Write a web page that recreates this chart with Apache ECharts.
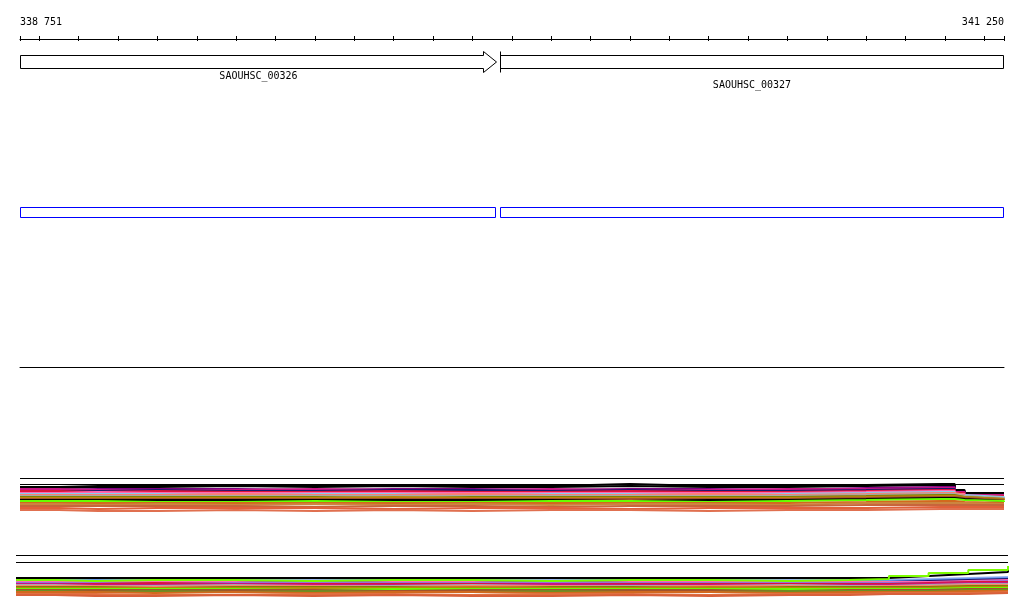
<!DOCTYPE html>
<html><head><meta charset="utf-8">
<script src="https://cdn.jsdelivr.net/npm/echarts@6/dist/echarts.min.js"></script>
<style>html,body{margin:0;padding:0;background:#fff}#c{width:1024px;height:611px}</style>
</head><body><div id="c"></div>
<script>
// ---- axis ----
const axisMin = 338751, axisMax = 341250;
const tickValues = [338751, 338800, 338900, 339000, 339100, 339200, 339300, 339400, 339500, 339600, 339700, 339800, 339900, 340000, 340100, 340200, 340300, 340400, 340500, 340600, 340700, 340800, 340900, 341000, 341100, 341200, 341250];
const tickLabels = [338751, 341250];

// ---- genes ----
const geneNames = ['SAOUHSC_00326', 'SAOUHSC_00327'];
const geneStarts = [338751, 339970];
const geneEnds = [339962, 341250];
const geneLabelRows = [0, 1];

// ---- CDS features (blue) ----
const featStarts = [338751, 339970];
const featEnds = [339961, 341250];

// ---- track A (profiles) ----
const trackARefLevels = [0.5, 6.5];
const posA = [338751, 338850, 338950, 339100, 339300, 339500, 339700, 339900, 340100, 340300, 340500, 340700, 340900, 341090, 341125, 341150, 341250];
const colorsA = ['#000000', '#000000', '#800080', '#c71585', '#191970', '#dc143c', '#ff69b4', '#87ceeb', '#fa8072', '#a9a9a9', '#808000', '#b8860b', '#a0522d', '#000000', '#66ff00', '#d2691e', '#cd853f', '#c8643c', '#e0603a', '#e07050'];
const valuesA = [
  [9, 8, 7, 7, 8, 7, 7, 8, 6, 8, 7, 7, 6, 6, 12, 15, 15],
  [10, 9, 9, 8, 9, 8, 9, 9, 8, 9, 9, 8, 7, 7, 13, 16, 16],
  [12, 11, 11, 11, 12, 11, 11, 12, 11, 11, 12, 10, 9, 9, 14, 17, 17],
  [11, 12, 12, 12, 11, 12, 12, 11, 12, 12, 11, 11, 10, 10, 14, 17, 17],
  [13, 13, 12, 13, 13, 12, 12, 13, 12, 13, 13, 12, 11, 11, 15, 18, 18],
  [13, 14, 13, 14, 14, 13, 14, 14, 13, 14, 14, 13, 12, 12, 15, 18, 18],
  [15, 14, 15, 15, 15, 15, 15, 15, 15, 15, 15, 14, 13, 13, 16, 19, 19],
  [16, 16, 16, 17, 16, 16, 17, 16, 16, 17, 16, 15, 14, 14, 17, 19, 20],
  [17, 17, 17, 16, 17, 17, 16, 17, 17, 16, 17, 16, 15, 15, 17, 20, 20],
  [18, 18, 18, 18, 18, 18, 18, 18, 18, 18, 18, 17, 16, 16, 18, 20, 21],
  [19, 19, 19, 19, 19, 20, 19, 19, 19, 19, 19, 18, 17, 17, 19, 21, 21],
  [20, 20, 20, 20, 20, 19, 20, 20, 20, 20, 20, 19, 18, 18, 19, 21, 22],
  [21, 21, 21, 21, 21, 21, 21, 21, 21, 21, 21, 20, 19, 19, 20, 22, 22],
  [22, 22, 22, 22, 22, 22, 22, 22, 23, 22, 22, 21, 20, 20, 21, 23, 23],
  [23, 23, 24, 24, 23, 24, 24, 23, 23, 24, 23, 22, 21, 21, 22, 23, 24],
  [25, 25, 25, 25, 25, 25, 25, 25, 25, 25, 25, 24, 23, 23, 24, 25, 25],
  [26, 27, 26, 27, 26, 27, 26, 27, 26, 26, 27, 25, 25, 25, 25, 26, 26],
  [28, 28, 28, 28, 29, 28, 28, 29, 28, 28, 28, 27, 27, 27, 27, 27, 27],
  [30, 31, 30, 30, 30, 31, 30, 30, 31, 30, 30, 30, 29, 29, 29, 29, 29],
  [32, 33, 33, 32, 33, 32, 33, 32, 32, 33, 32, 32, 31, 31, 31, 31, 31]
];

// ---- track B (profiles) ----
const trackBRefLevels = [0.5, 7.5];
const posB = [338751, 338850, 338950, 339100, 339300, 339500, 339700, 339900, 340100, 340300, 340500, 340700, 340850, 340950, 341050, 341150, 341250];
const colorsB = ['#9ab4f0', '#6495ed', '#191970', '#ff69b4', '#9370db', '#dc143c', '#c71585', '#a9a9a9', '#fa8072', '#808000', '#b8860b', '#66ff00', '#a0522d', '#6b8e23', '#d2691e', '#e07040', '#d8603a', '#000000', '#7cfc00'];
const valuesB = [
  [25, 25, 25, 24, 25, 25, 24, 25, 25, 24, 25, 24, 25, 24, 23, 22, 22],
  [26, 25, 26, 26, 26, 25, 26, 26, 25, 26, 26, 26, 26, 25, 24, 23, 23],
  [26, 26, 26, 27, 26, 27, 26, 26, 27, 26, 26, 27, 27, 26, 25, 24, 24],
  [27, 27, 27, 27, 28, 27, 27, 28, 27, 27, 27, 27, 27, 27, 26, 25, 25],
  [28, 28, 28, 28, 27, 28, 28, 27, 28, 28, 28, 28, 28, 28, 27, 26, 26],
  [29, 29, 28, 29, 29, 29, 29, 29, 29, 29, 29, 29, 29, 28, 27, 27, 27],
  [29, 30, 30, 29, 30, 30, 30, 29, 30, 30, 30, 30, 30, 29, 28, 28, 28],
  [30, 31, 31, 30, 31, 31, 30, 31, 31, 31, 30, 31, 31, 30, 29, 29, 29],
  [31, 31, 32, 31, 31, 32, 31, 31, 32, 31, 31, 32, 31, 31, 30, 30, 30],
  [32, 32, 33, 32, 32, 32, 33, 32, 32, 33, 32, 32, 32, 32, 31, 31, 31],
  [33, 33, 33, 33, 33, 33, 32, 33, 33, 32, 33, 33, 33, 33, 32, 32, 32],
  [34, 34, 34, 34, 35, 34, 34, 34, 34, 34, 34, 34, 34, 34, 33, 33, 33],
  [35, 35, 35, 35, 35, 36, 35, 35, 35, 35, 36, 35, 35, 35, 34, 34, 34],
  [36, 37, 36, 37, 36, 37, 37, 36, 37, 37, 36, 36, 36, 36, 35, 35, 35],
  [37, 37, 38, 37, 38, 37, 37, 38, 37, 37, 38, 37, 37, 37, 36, 36, 36],
  [39, 39, 40, 40, 39, 39, 40, 39, 39, 40, 39, 39, 38, 38, 38, 37, 37],
  [40, 41, 41, 40, 41, 40, 41, 41, 40, 41, 40, 40, 39, 39, 39, 38, 38],
  [23, 23, 23, 23, 23, 23, 23, 23, 23, 23, 23, 23, 23, 21, 19, 17, 13],
  [25, 26, 25, 25, 26, 25, 25, 26, 25, 25, 26, 25, 24, 21, 18, 15, 11]
];

const FONT = 'DejaVu Sans Mono';

function renderGene(params, api) {
  const s = api.value(0), e = api.value(1), row = api.value(2);
  const x0 = Math.round(api.coord([s, 0])[0]) + 0.5;
  const x1 = Math.round(api.coord([e, 0])[0]) - 0.5;
  const cs = params.coordSys;
  const top = cs.y + 0.5, bot = cs.y + cs.height + 0.5, mid = (top + bot) / 2;
  const children = [];
  const headVisible = e < axisMax;
  const startVisible = s > axisMin;
  if (headVisible) {
    const xb = x1 - 13;
    children.push({type: 'polygon', shape: {points: [[x0, top], [xb, top], [xb, top - 4], [x1, mid], [xb, bot + 4], [xb, bot], [x0, bot]]},
      style: {fill: '#fff', stroke: '#000', lineWidth: 1}});
  } else {
    children.push({type: 'rect', shape: {x: x0, y: top, width: x1 - x0, height: bot - top},
      style: {fill: '#fff', stroke: '#000', lineWidth: 1}});
  }
  if (startVisible) {
    children.push({type: 'line', shape: {x1: x0, y1: top - 4, x2: x0, y2: bot + 4}, style: {stroke: '#000', lineWidth: 1}});
  }
  children.push({type: 'text', style: {text: geneNames[params.dataIndex], x: (x0 + x1) / 2, y: bot + 8 + row * 9,
    align: 'center', verticalAlign: 'middle', font: '10px "' + FONT + '"', fill: '#000'}});
  return {type: 'group', children: children};
}

function renderFeat(params, api) {
  const x0 = Math.round(api.coord([api.value(0), 0])[0]) + 0.5;
  const x1 = Math.round(api.coord([api.value(1), 0])[0]) - 0.5;
  const cs = params.coordSys;
  return {type: 'rect', shape: {x: x0, y: cs.y + 0.5, width: x1 - x0, height: cs.height},
    style: {fill: 'none', stroke: '#0000ff', lineWidth: 1}};
}

const grids = [
  {left: 20, right: 20, top: 38, height: 1},      // 0 axis
  {left: 20, right: 20, top: 55, height: 13},     // 1 genes
  {left: 20, right: 20, top: 207, height: 10},    // 2 features
  {left: 20, right: 20, top: 366, height: 1},     // 3 empty track
  {left: 20, right: 20, top: 478, height: 36},    // 4 track A
  {left: 16, right: 16, top: 555, height: 44}     // 5 track B
];

const hiddenX = (gi) => ({type: 'value', gridIndex: gi, min: axisMin, max: axisMax, show: false});
const xAxes = [
  {type: 'value', gridIndex: 0, position: 'top', min: axisMin, max: axisMax,
    axisLine: {show: true, lineStyle: {color: '#000', width: 1}},
    axisTick: {show: true, inside: false, length: 3, customValues: tickValues, lineStyle: {color: '#000'}},
    axisLabel: {show: true, customValues: tickLabels, margin: 11, color: '#000', fontFamily: FONT, fontSize: 10,
      alignMinLabel: 'left', alignMaxLabel: 'right',
      formatter: v => String(v).replace(/\B(?=(\d{3})+(?!\d))/g, ' ')},
    splitLine: {show: false}},
  {type: 'value', gridIndex: 0, position: 'top', min: axisMin, max: axisMax,
    axisLine: {show: false},
    axisTick: {show: true, inside: true, length: 3, customValues: tickValues, lineStyle: {color: '#000'}},
    axisLabel: {show: false}, splitLine: {show: false}},
  hiddenX(1), hiddenX(2),
  {type: 'value', gridIndex: 3, position: 'top', min: axisMin, max: axisMax,
    axisLine: {show: true, lineStyle: {color: '#000', width: 1}}, axisTick: {show: false}, axisLabel: {show: false}, splitLine: {show: false}},
  hiddenX(4), hiddenX(5)
];
const yAxes = [
  {type: 'value', gridIndex: 0, show: false, min: 0, max: 1},
  {type: 'value', gridIndex: 1, show: false, min: 0, max: 1},
  {type: 'value', gridIndex: 2, show: false, min: 0, max: 1},
  {type: 'value', gridIndex: 3, show: false, min: 0, max: 1},
  {type: 'value', gridIndex: 4, show: false, min: 0, max: 36, inverse: true},
  {type: 'value', gridIndex: 5, show: false, min: 0, max: 44, inverse: true}
];

const series = [];
series.push({type: 'custom', name: 'genes', xAxisIndex: 2, yAxisIndex: 1, renderItem: renderGene, clip: false,
  data: geneNames.map((n, i) => [geneStarts[i], geneEnds[i], geneLabelRows[i]])});
series.push({type: 'custom', name: 'features', xAxisIndex: 3, yAxisIndex: 2, renderItem: renderFeat, clip: false,
  data: featStarts.map((s, i) => [s, featEnds[i]])});

trackARefLevels.forEach(l => series.push({type: 'line', xAxisIndex: 5, yAxisIndex: 4, symbol: 'none', silent: true,
  lineStyle: {color: '#000', width: 1}, data: [[axisMin, l], [axisMax, l]]}));
valuesA.forEach((vals, i) => series.push({type: 'line', step: 'end', xAxisIndex: 5, yAxisIndex: 4, symbol: 'none', silent: true,
  lineStyle: {color: colorsA[i], width: 2}, data: vals.map((v, j) => [posA[j], v])}));

trackBRefLevels.forEach(l => series.push({type: 'line', xAxisIndex: 6, yAxisIndex: 5, symbol: 'none', silent: true,
  lineStyle: {color: '#000', width: 1}, data: [[axisMin, l], [axisMax, l]]}));
valuesB.forEach((vals, i) => series.push({type: 'line', step: 'end', xAxisIndex: 6, yAxisIndex: 5, symbol: 'none', silent: true,
  lineStyle: {color: colorsB[i], width: 2}, data: vals.map((v, j) => [posB[j], v])}));

const chart = echarts.init(document.getElementById('c'), null, {renderer: 'canvas'});
chart.setOption({animation: false, backgroundColor: '#fff', grid: grids, xAxis: xAxes, yAxis: yAxes, series: series});
</script></body></html>
